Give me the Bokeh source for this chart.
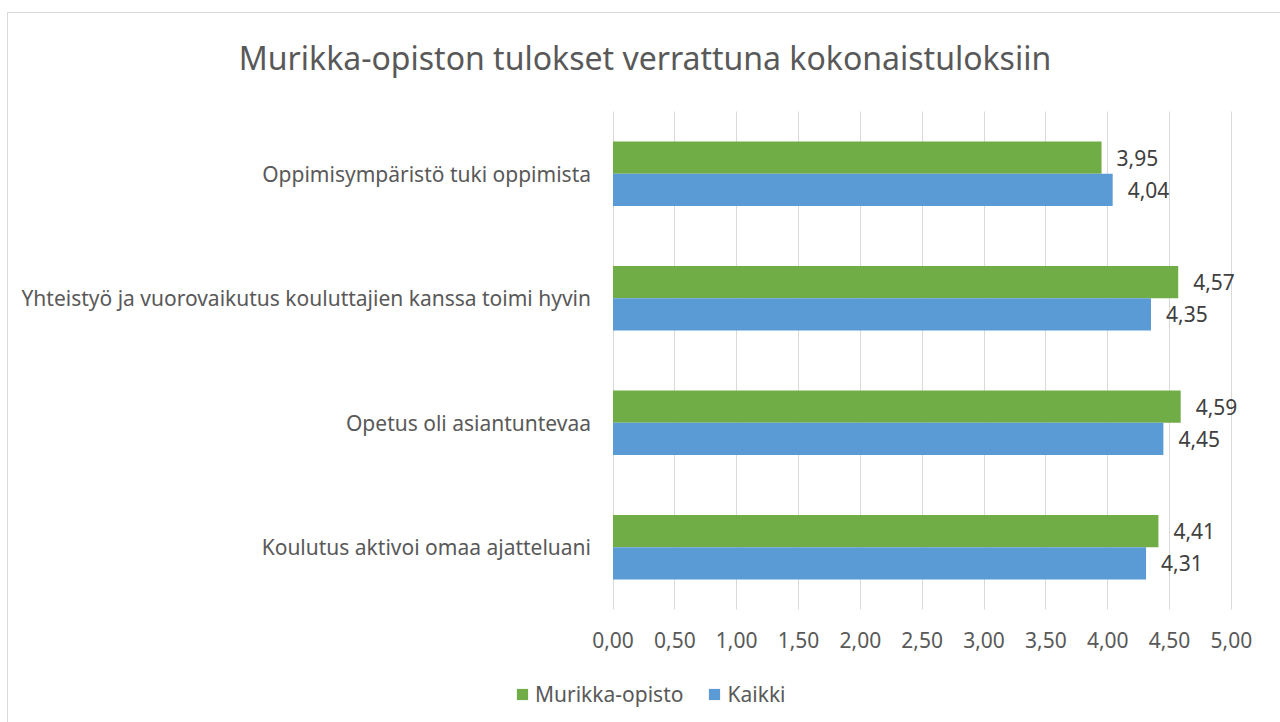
from bokeh.plotting import figure
from bokeh.models import (Range1d, ColumnDataSource, LabelSet, Label, Legend, LegendItem,
                          FixedTicker, InlineStyleSheet)
from bokeh.core.properties import value
from bokeh.transform import dodge
from bokeh.embed import file_html
from bokeh.resources import INLINE

title_text = "Murikka-opiston tulokset verrattuna kokonaistuloksiin"
categories = [
    "Oppimisympäristö tuki oppimista",
    "Yhteistyö ja vuorovaikutus kouluttajien kanssa toimi hyvin",
    "Opetus oli asiantuntevaa",
    "Koulutus aktivoi omaa ajatteluani",
]
series_names = ["Murikka-opisto", "Kaikki"]
murikka = [3.95, 4.57, 4.59, 4.41]
kaikki = [4.04, 4.35, 4.45, 4.31]
tick_values = [0, 0.5, 1, 1.5, 2, 2.5, 3, 3.5, 4, 4.5, 5]
tick_labels = ["0,00", "0,50", "1,00", "1,50", "2,00", "2,50", "3,00", "3,50", "4,00", "4,50", "5,00"]

FONT = "Noto Sans"
FS = "21px"
GREEN = "#70AD47"
BLUE = "#5B9BD5"
TXT = "#595959"

# geometry (pixels) of the whole-canvas frame
W, H = 1272, 709
X0_PX, PPU_X = 604.5, 123.68      # canvas px of x=0, px per unit
Y0_PX, PPU_Y = 596.0, 124.5       # canvas px (from top) of category band bottom, px per category


def fmt(v):
    return f"{v:.2f}".replace(".", ",")


n = len(categories)
ypos = [n - i - 0.5 for i in range(n)]

src = ColumnDataSource(dict(
    y=ypos,
    m=murikka,
    k=kaikki,
    ml=[fmt(v) for v in murikka],
    kl=[fmt(v) for v in kaikki],
))

p = figure(
    width=W, height=H,
    x_range=Range1d(-X0_PX / PPU_X, (W - X0_PX) / PPU_X),
    y_range=Range1d(-(H - Y0_PX) / PPU_Y, Y0_PX / PPU_Y),
    output_backend="svg", toolbar_location=None, min_border=0,
)
p.stylesheets = [InlineStyleSheet(css=":host { margin: 13px 0 0 8px; outline: 1px solid #d9d9d9; }")]
p.outline_line_color = None
p.background_fill_color = "white"
p.border_fill_color = "white"

bh = 0.26
r1 = p.hbar(y=dodge("y", bh / 2), right="m", left=0, height=bh,
            source=src, fill_color=GREEN, line_color=None)
r2 = p.hbar(y=dodge("y", -bh / 2), right="k", left=0, height=bh,
            source=src, fill_color=BLUE, line_color=None)

for col, lab, off in (("m", "ml", bh / 2), ("k", "kl", -bh / 2)):
    p.add_layout(LabelSet(x=col, y=dodge("y", off), text=lab, source=src,
                          x_offset=15, text_baseline="middle", text_align="left",
                          text_font=value(FONT), text_font_size=value(FS),
                          text_color="#404040"))

# grid: vertical lines only over the category band
p.ygrid.grid_line_color = None
p.xgrid.grid_line_color = "#d9d9d9"
p.xgrid.grid_line_width = 1
p.xgrid.ticker = FixedTicker(ticks=tick_values)
p.xgrid.cross_bounds = (0, n)

# x axis, drawn at the bottom of the category band
p.xaxis.fixed_location = 0
p.xaxis.ticker = FixedTicker(ticks=tick_values)
p.xaxis.major_label_overrides = {float(t): l for t, l in zip(tick_values, tick_labels)}
p.xaxis.axis_line_color = None
p.xaxis.major_tick_line_color = None
p.xaxis.minor_tick_line_color = None
p.xaxis.major_tick_out = 0
p.xaxis.major_tick_in = 0
p.xaxis.major_label_standoff = 22
p.xaxis.major_label_text_font = FONT
p.xaxis.major_label_text_font_size = FS
p.xaxis.major_label_text_color = TXT

# y axis (category names), drawn at x = 0
p.yaxis.fixed_location = 0
p.yaxis.ticker = FixedTicker(ticks=ypos)
p.yaxis.major_label_overrides = {float(y): c for y, c in zip(ypos, categories)}
p.yaxis.axis_line_color = None
p.yaxis.major_tick_line_color = None
p.yaxis.minor_tick_line_color = None
p.yaxis.major_tick_out = 0
p.yaxis.major_tick_in = 0
p.yaxis.major_label_standoff = 22
p.yaxis.major_label_text_font = FONT
p.yaxis.major_label_text_font_size = FS
p.yaxis.major_label_text_color = TXT

# title
p.add_layout(Label(x=636.5, y=H - 44, x_units="screen", y_units="screen", text=title_text,
                   text_align="center", text_baseline="middle", text_font=FONT,
                   text_font_size="32px", text_color=TXT))

legend = Legend(items=[LegendItem(label=series_names[0], renderers=[r1]),
                       LegendItem(label=series_names[1], renderers=[r2])],
                location=(507, 14), orientation="horizontal",
                padding=0, margin=0, spacing=24, glyph_width=14, glyph_height=14,
                label_standoff=6, border_line_color=None, background_fill_alpha=0,
                label_text_font=FONT, label_text_font_size=FS, label_text_color=TXT)
p.add_layout(legend, "center")

open("out.html", "w").write(file_html(p, INLINE))
